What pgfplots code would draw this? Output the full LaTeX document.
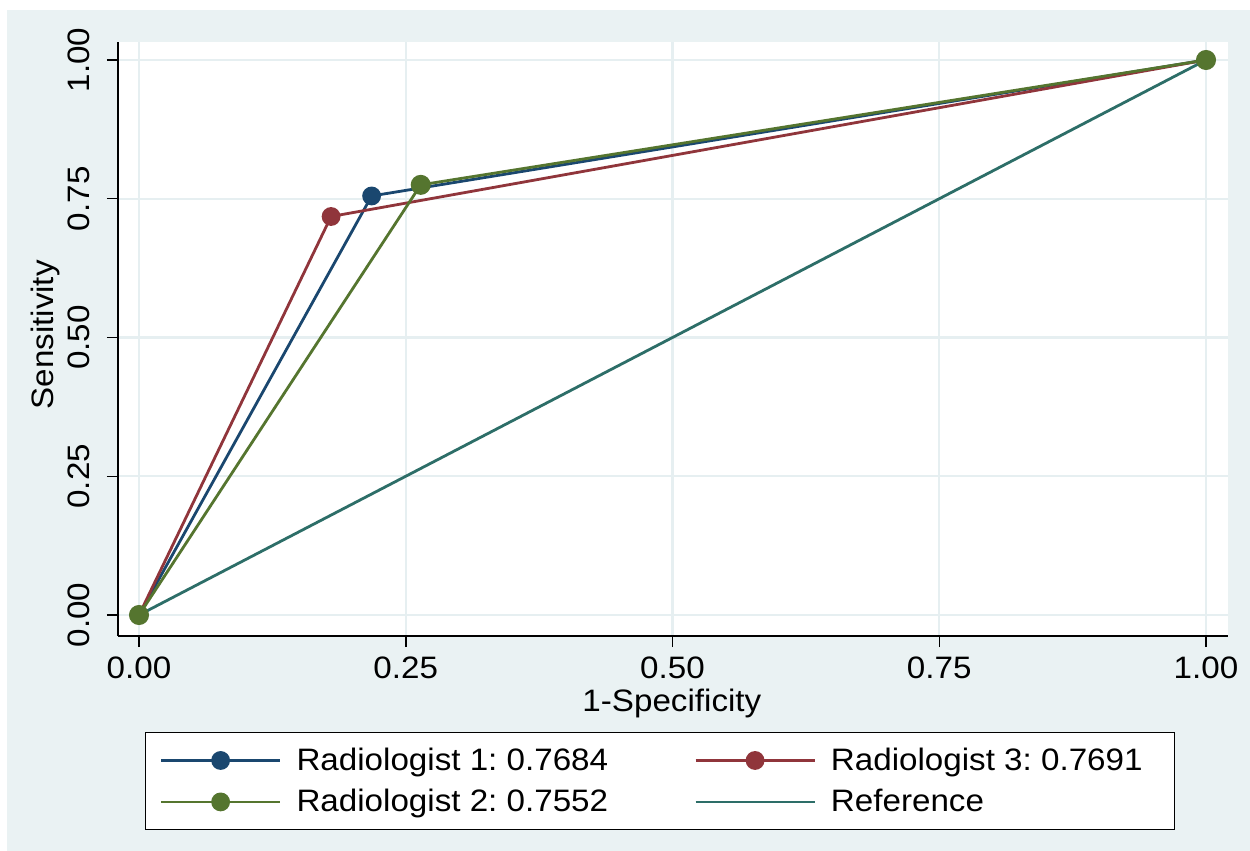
\documentclass[border=0pt]{standalone}
\usepackage{fontspec}
\setmainfont[FakeStretch=1.07]{Liberation Sans}
\usepackage{pgfplots}
\pgfplotsset{compat=1.18}

\definecolor{bgblue}{HTML}{EAF2F3}
\definecolor{gridblue}{HTML}{E6EFF1}
\definecolor{navy}{HTML}{1A476F}
\definecolor{maroon}{HTML}{90353B}
\definecolor{forest}{HTML}{55752F}
\definecolor{refteal}{HTML}{2D6E68}

\newcommand{\chartfont}{\fontsize{15.5}{18.6}\selectfont}
\frenchspacing

\begin{document}
\begin{tikzpicture}[font=\chartfont]
% page and outer background (1px = 0.5pt, origin at the axis' lower left corner)
\fill[white] (-59pt,318pt) rectangle (566pt,-107.5pt);
\fill[bgblue] (-55.5pt,313pt) rectangle (566pt,-107.5pt);
\begin{axis}[
	at={(0pt,0pt)}, anchor=south west,
	scale only axis, width=555pt, height=297pt,
	xmin=-0.0197, xmax=1.0206,
	ymin=-0.0378, ymax=1.0324,
	axis x line*=bottom, axis y line*=left,
	axis line style={line width=0.75pt, black},
	axis background/.style={fill=white},
	xtick={0,0.25,0.5,0.75,1},
	ytick={0,0.25,0.5,0.75,1},
	tick align=outside, major tick length=5.5pt,
	tick style={line width=0.75pt, black},
	grid=major, major grid style={line width=1.2pt, gridblue},
	/pgf/number format/fixed,
	/pgf/number format/fixed zerofill,
	/pgf/number format/precision=2,
	/pgf/number format/assume math mode=true,
	tick label style={font=\chartfont},
	yticklabel style={rotate=90, anchor=south},
	yticklabel shift=5pt,
	xticklabel shift=1.5pt,
	xlabel={1-Specificity},
	ylabel={Sensitivity},
	label style={font=\chartfont},
	xlabel style={at={(axis description cs:0.499,-0.113)}, anchor=center},
	ylabel style={at={(axis description cs:-0.0650,0.507)}, anchor=center},
	legend columns=2,
	legend cell align=left,
	legend image code/.code={
		\draw[mark repeat=2, mark phase=2] plot coordinates {(0pt,0pt) (29.75pt,0pt) (59.5pt,0pt)};
	},
	legend style={
		at={(axis description cs:0.0243,-0.1616)}, anchor=north west,
		draw=black, line width=0.75pt, fill=white,
		font=\chartfont,
		inner xsep=7pt, inner ysep=6.5pt,
		nodes={inner xsep=5pt, inner ysep=1pt},
		row sep=6pt,
		/tikz/every odd column/.append style={column sep=2.5pt},
		/tikz/every even column/.append style={column sep=38pt},
	},
]
% diagonal reference line
\addplot[refteal, line width=1.4pt, forget plot] coordinates {(0,0) (1,1)};
% Radiologist 1
\addplot[navy, line width=1.4pt, mark=*, mark size=4pt, forget plot] coordinates {
	(0,0) (0.218,0.755) (1,1)
};
% Radiologist 3
\addplot[maroon, line width=1.4pt, mark=*, mark size=4pt, forget plot] coordinates {
	(0,0) (0.180,0.718) (1,1)
};
% Radiologist 2
\addplot[forest, line width=1.4pt, mark=*, mark size=4.3pt, forget plot] coordinates {
	(0,0) (0.264,0.775) (1,1)
};

\addlegendimage{navy, line width=1.4pt, mark=*, mark size=4pt}
\addlegendentry{Radiologist 1: 0.7684}
\addlegendimage{maroon, line width=1.4pt, mark=*, mark size=4pt}
\addlegendentry{Radiologist 3: 0.7691\hspace*{4pt}}
\addlegendimage{forest, line width=1.4pt, mark=*, mark size=4pt}
\addlegendentry{Radiologist 2: 0.7552}
\addlegendimage{refteal, line width=1.4pt}
\addlegendentry{Reference}
\end{axis}
\pgfresetboundingbox
\path[use as bounding box] (-59pt,318pt) rectangle (566pt,-107.5pt);
\end{tikzpicture}
\end{document}
